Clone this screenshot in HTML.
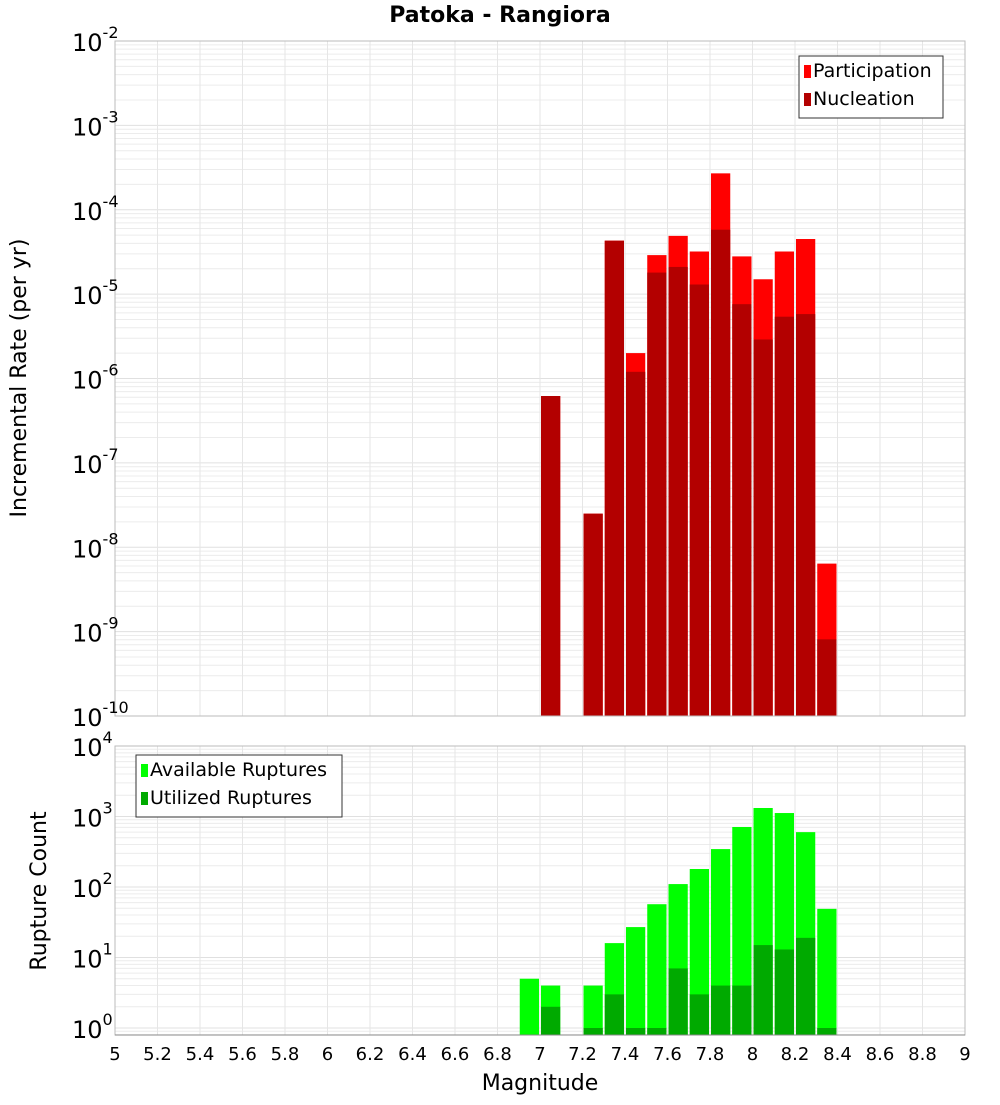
<!DOCTYPE html>
<html><head><meta charset="utf-8"><style>
body{margin:0;background:#fff;font-family:"Liberation Sans","DejaVu Sans",sans-serif}
svg text{font-family:"DejaVu Sans","Liberation Sans",sans-serif}
</style></head><body>
<svg id="c" width="1000" height="1100" xmlns="http://www.w3.org/2000/svg">
<text x="500" y="22" text-anchor="middle" font-size="22" font-weight="bold">Patoka - Rangiora</text>
<text transform="translate(26,378) rotate(-90)" text-anchor="middle" font-size="22">Incremental Rate (per yr)</text>
<text transform="translate(46,891) rotate(-90)" text-anchor="middle" font-size="22">Rupture Count</text>
<text x="540" y="1090" text-anchor="middle" font-size="22">Magnitude</text>
<g id="g"></g>
</svg>
<script>
const mags=[6.95,7.05,7.25,7.35,7.45,7.55,7.65,7.75,7.85,7.95,8.05,8.15,8.25,8.35];
const participation=[null,6.2e-7,2.5e-8,4.3e-5,2.0e-6,2.9e-5,4.9e-5,3.2e-5,2.7e-4,2.8e-5,1.5e-5,3.2e-5,4.5e-5,6.4e-9];
const nucleation=[null,6.2e-7,2.5e-8,4.3e-5,1.2e-6,1.8e-5,2.1e-5,1.3e-5,5.8e-5,7.6e-6,2.9e-6,5.4e-6,5.8e-6,8.1e-10];
const available=[5,4,4,16,27,57,110,180,345,710,1320,1120,600,49];
const utilized=[0,2,1,3,1,1,7,3,4,4,15,13,19,1];
const xTicks=[5,5.2,5.4,5.6,5.8,6,6.2,6.4,6.6,6.8,7,7.2,7.4,7.6,7.8,8,8.2,8.4,8.6,8.8,9];
const topExps=[-2,-3,-4,-5,-6,-7,-8,-9,-10];
const botExps=[4,3,2,1,0];

const NS="http://www.w3.org/2000/svg",G=document.getElementById('g');
function mk(t,a,p){const e=document.createElementNS(NS,t);for(const k in a)e.setAttribute(k,a[k]);(p||G).appendChild(e);return e;}
const X0=115,X1=965;
const xs=m=>X0+(m-5)/4*(X1-X0);
const T0=41,T1=716,yTop=v=>T0+(-2-Math.log10(v))*(T1-T0)/8;
const B0=746,B1=1035,BD=70.5,yBot=v=>B0+(4-Math.log10(v))*BD;

function panel(y0,y1,emin,emax,yf,name){
  const bg=mk('rect',{x:X0,y:y0,width:X1-X0,height:y1-y0,fill:'#fff'});
  
  
  for(let e=emin;e<=emax;e++)for(let k=1;k<10;k++){const y=yf(k*Math.pow(10,e));if(y<y0-0.5||y>y1+0.5)continue;
    mk('line',{x1:X0,x2:X1,y1:y,y2:y,stroke:k==1?'#e0e0e0':'#ececec','stroke-width':1});}
  xTicks.forEach(t=>{const x=xs(t);mk('line',{x1:x,x2:x,y1:y0,y2:y1,stroke:'#e6e6e6','stroke-width':1});});
}
panel(T0,T1,-10,-2,yTop,'top');
panel(B0,B1,-1,4,yBot,'bottom');

const bw=(X1-X0)/40-2;
mags.forEach((m,i)=>{const x=xs(m)-bw/2;
  if(participation[i]){const y=yTop(participation[i]);const r=mk('rect',{x:x,y:y,width:bw,height:T1-y,fill:'#ff0000'});
    
    }
  if(nucleation[i]){const y=yTop(nucleation[i]);const r=mk('rect',{x:x,y:y,width:bw,height:T1-y,fill:'#b30000'});
    
    }
  if(available[i]){const y=yBot(available[i]);const r=mk('rect',{x:x,y:y,width:bw,height:B1-y,fill:'#00ff00'});
    
    }
  if(utilized[i]){const y=yBot(utilized[i]);const r=mk('rect',{x:x,y:y,width:bw,height:B1-y,fill:'#00aa00'});
    
    }
});
mk('rect',{x:X0,y:T0,width:X1-X0,height:T1-T0,fill:'none',stroke:'#bbb'});
mk('rect',{x:X0,y:B0,width:X1-X0,height:B1-B0,fill:'none',stroke:'#bbb'});
mk('line',{x1:X0,x2:X1,y1:B1,y2:B1,stroke:'#888'});

function tickLab(exp,y,name){const t=mk('text',{x:72,y:y+10,'text-anchor':'start','font-size':24});
  t.textContent='10';const s=mk('tspan',{dy:-13,'font-size':16},t);s.textContent=String(exp);
  
  }
topExps.forEach(e=>tickLab(e,yTop(Math.pow(10,e)),'top-y-tick'));
botExps.forEach(e=>tickLab(e,yBot(Math.pow(10,e)),'bottom-y-tick'));
xTicks.forEach(t=>{const l=mk('text',{x:xs(t),y:1060,'text-anchor':'middle','font-size':18});l.textContent=String(t);
  
  });

function legend(x,y,w,items,name){const g=mk('g',{});
  
  
  mk('rect',{x:x,y:y,width:w,height:62,fill:'#fff',stroke:'#333'},g);
  items.forEach((it,i)=>{mk('rect',{x:x+5,y:y+9+i*28,width:7,height:13,fill:it[1]},g);
    const t=mk('text',{x:x+14,y:y+21+i*28,'font-size':19},g);t.textContent=it[0];});}
legend(799,56,144,[['Participation','#ff0000'],['Nucleation','#b30000']],'top-legend');
legend(136,755,206,[['Available Ruptures','#00ff00'],['Utilized Ruptures','#00aa00']],'bottom-legend');
</script>
</body></html>
